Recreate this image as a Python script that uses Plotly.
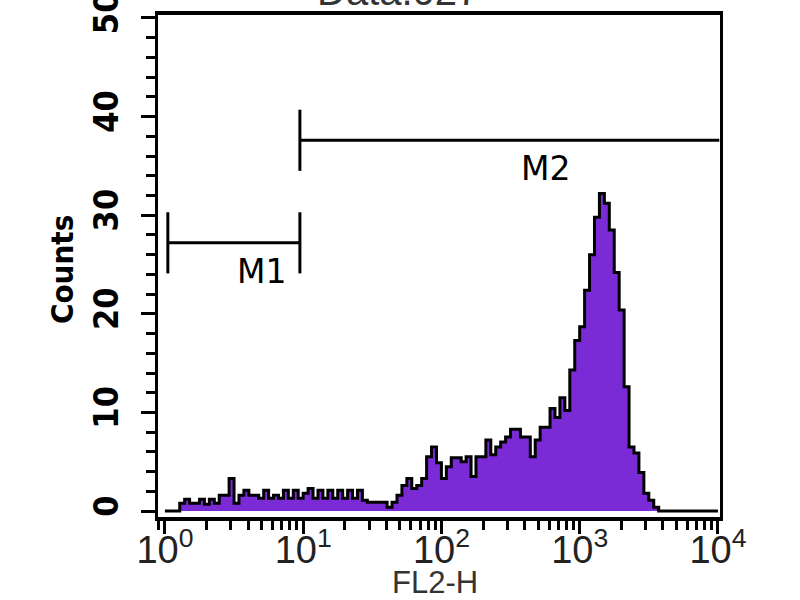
import numpy as np
import plotly.graph_objects as go

# ---- data ----
bins_per_decade = 28
counts = [
    0, 0, 0, 0.8, 1.2, 0.8, 0.8, 1.2, 0.7, 1.2,
    0.8, 1.6, 1.6, 3.3, 0.8, 1.6, 2.1, 1.6, 1.6, 1.3,
    2.1, 1.3, 1.6, 1.3, 2.1, 1.3, 2.1, 1.3, 1.8, 2.3,
    1.3, 2.1, 1.3, 2.1, 1.3, 2.1, 1.3, 2.1, 1.3, 2.1,
    1.1, 0.9, 0.9, 0.9, 0.9, 0.4, 0.9, 1.6, 2.6, 3.3,
    2.3, 2.6, 3.3, 5.5, 6.5, 4.9, 3.3, 4.5, 5.4, 5.4,
    5.0, 5.5, 3.5, 5.5, 5.5, 7.2, 5.7, 6.5, 7.0, 7.5,
    8.3, 8.3, 7.5, 7.5, 5.5, 7.2, 8.5, 8.5, 10.4, 9.5,
    11.5, 10.2, 14.3, 17.3, 18.7, 22.4, 26.0, 29.8, 32.2, 31.2,
    28.5, 24.2, 20.4, 12.6, 6.5, 5.9, 3.9, 1.8, 1.1, 0.4,
    0, 0, 0, 0, 0, 0, 0, 0, 0, 0,
    0, 0,
]
marker_names = ["M1", "M2"]
marker_lo = [1.05, 9.47]
marker_hi = [9.47, 10230]
marker_y = [27.2, 37.6]
marker_label_x = [5.0, 570.0]

x_tickvals = [1, 10, 100, 1000, 10000]
x_ticktext = ["10<sup>0</sup>", "10<sup>1</sup>", "10<sup>2</sup>", "10<sup>3</sup>", "10<sup>4</sup>"]
y_tickvals = [0, 10, 20, 30, 40, 50]

edges = 10 ** (np.arange(len(counts) + 1) / bins_per_decade)
xs = list(edges)
ys = list(counts) + [counts[-1]]

COND = "DejaVu Sans Condensed, Liberation Sans Narrow, DejaVu Sans, sans-serif"

fig = go.Figure()
fig.add_trace(go.Scatter(
    x=xs, y=ys, mode="lines", line=dict(shape="hv", color="black", width=3),
    fill="tozeroy", fillcolor="#7a2bd6", hoverinfo="skip", showlegend=False,
))

# gate markers
half = 3.1
for i, (name, lo, hi, yv, lx) in enumerate(zip(marker_names, marker_lo, marker_hi, marker_y, marker_label_x)):
    fig.add_trace(go.Scatter(x=[lo, hi], y=[yv, yv], mode="lines",
                             line=dict(color="black", width=3), showlegend=False, hoverinfo="skip"))
    ends = (lo, hi) if i == 0 else (lo,)
    for xe in ends:
        fig.add_trace(go.Scatter(x=[xe, xe], y=[yv - half, yv + half], mode="lines",
                                 line=dict(color="black", width=3), showlegend=False, hoverinfo="skip"))
    fig.add_annotation(x=np.log10(lx), y=yv - 0.7, xref="x", yref="y",
                       text=name, showarrow=False, xanchor="center", yanchor="top",
                       font=dict(family="DejaVu Sans", size=33, color="black"))

# axis titles / title
fig.add_annotation(x=(62 - 158) / 562, y=0.492, xref="paper", yref="paper", text="<b>Counts</b>",
                   textangle=-90, showarrow=False, xanchor="center", yanchor="middle",
                   font=dict(family=COND, size=31, color="black"))
fig.add_annotation(x=(435 - 158) / 562, y=(517 - 583) / 502, xref="paper", yref="paper", text="FL2-H",
                   showarrow=False, xanchor="center", yanchor="middle",
                   font=dict(family="Liberation Sans", size=31, color="#333333"))
fig.add_annotation(x=(315 - 158) / 562, y=1.0, xref="paper", yref="paper", text="Data.027",
                   showarrow=False, xanchor="left", yanchor="bottom",
                   font=dict(family="Liberation Sans", size=40, color="#333333"))

fig.update_xaxes(type="log", range=[-0.05, 4.015], tickvals=x_tickvals, ticktext=x_ticktext,
                 ticks="outside", ticklen=13, tickwidth=3, tickcolor="black",
                 minor=dict(ticks="outside", ticklen=9, tickwidth=3, tickcolor="black", dtick="D1", showgrid=False),
                 showline=True, linewidth=4, linecolor="black", mirror=True,
                 showgrid=False, zeroline=False, ticklabelstandoff=-17,
                 tickfont=dict(family="Liberation Sans", size=38, color="#222222"))
fig.update_yaxes(range=[-0.6, 50.3], tickvals=y_tickvals, ticktext=[f"<b>{v}</b>" for v in y_tickvals],
                 tickangle=-90, ticks="outside", ticklen=14, tickwidth=3, tickcolor="black",
                 minor=dict(ticks="outside", ticklen=9, tickwidth=3, tickcolor="black", dtick=2, showgrid=False),
                 showline=True, linewidth=3, linecolor="black", mirror=True,
                 showgrid=False, zeroline=False, ticklabelstandoff=9, ticklabeloverflow="allow",
                 tickfont=dict(family=COND, size=34, color="black"))

fig.update_layout(width=800, height=600, margin=dict(l=158, r=80, t=15, b=83, autoexpand=False),
                  plot_bgcolor="white", paper_bgcolor="white")

fig.write_html("out.html", config={"displayModeBar": False},
               post_script="document.body.style.margin='0';document.body.style.overflow='hidden';")
